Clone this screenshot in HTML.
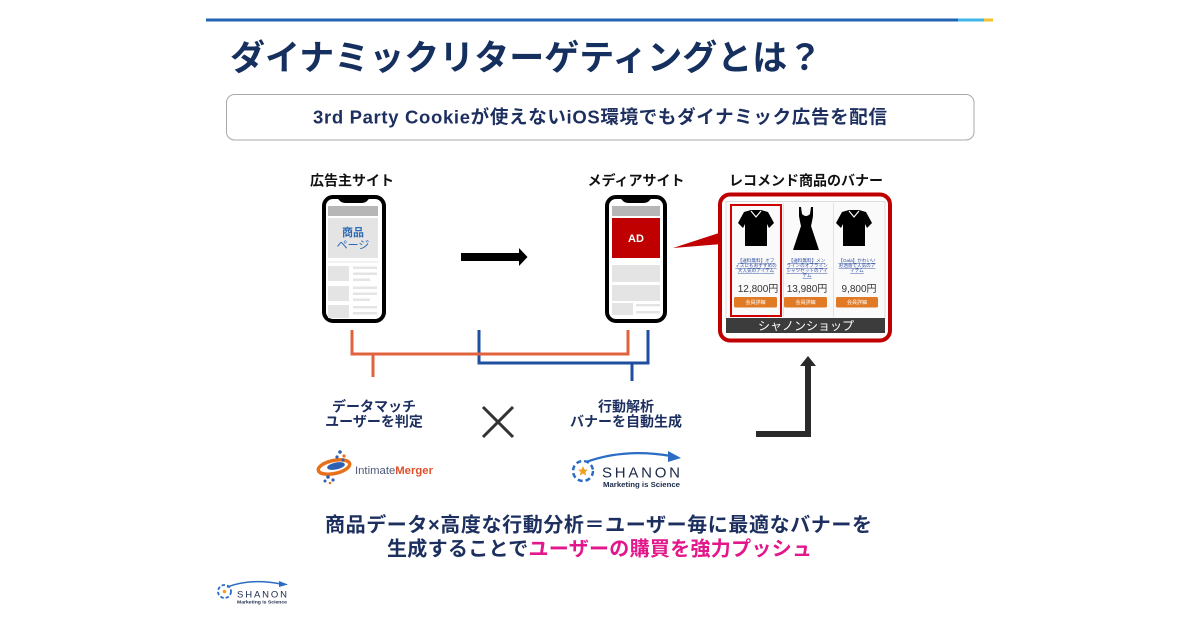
<!DOCTYPE html>
<html><head><meta charset="utf-8"><style>
html,body{margin:0;padding:0;background:#fff;}
body{width:1200px;height:628px;overflow:hidden;position:relative;}
svg{position:absolute;left:0;top:0;}
text{font-family:"Liberation Sans","Noto Sans CJK JP",sans-serif;}
</style></head><body>
<svg width="1200" height="628" viewBox="0 0 1200 628" xmlns="http://www.w3.org/2000/svg">
<!-- top line -->
<rect x="206" y="18.5" width="752" height="3" fill="#2263b3"/>
<rect x="958" y="18.5" width="26" height="3" fill="#3fb8e8"/>
<rect x="984" y="18.5" width="9" height="3" fill="#f2c12e"/>

<!-- title -->
<text x="230" y="70" font-size="35" font-weight="bold" fill="#15305f">ダイナミックリターゲティングとは？</text>

<!-- subtitle box -->
<rect x="226.5" y="94.5" width="747.5" height="45.5" rx="8" fill="#fff" stroke="#a8a8a8" stroke-width="1"/>
<text x="313" y="123.5" font-size="18.5" font-weight="bold" fill="#1c2f5f" textLength="574" lengthAdjust="spacing">3rd Party Cookieが使えないiOS環境でもダイナミック広告を配信</text>

<!-- labels -->
<text x="352" y="185.5" font-size="14" font-weight="bold" fill="#111" text-anchor="middle">広告主サイト</text>
<text x="636" y="185.5" font-size="14" font-weight="bold" fill="#111" text-anchor="middle">メディアサイト</text>
<text x="806" y="185.5" font-size="14" font-weight="bold" fill="#111" text-anchor="middle">レコメンド商品のバナー</text>

<!-- phone 1 -->
<rect x="324" y="197" width="60" height="124" rx="9" fill="#fff" stroke="#000" stroke-width="4"/>
<path d="M337,197 Q340,203 345,203 H362 Q367,203 370,197 Z" fill="#000"/>
<rect x="328" y="206" width="50" height="10" fill="#b6b6b6"/>
<rect x="328" y="218" width="50" height="40" fill="#e4e4e4"/>
<text x="353" y="236" font-size="11" font-weight="bold" fill="#2d6bb5" text-anchor="middle">商品</text>
<text x="353" y="248.5" font-size="11" fill="#2d6bb5" text-anchor="middle">ページ</text>
<rect x="328" y="261.5" width="50" height="1" fill="#e4e4e4"/>
<rect x="328" y="266" width="21" height="15" fill="#e4e4e4"/>
<rect x="353" y="266.5" width="24" height="2.5" fill="#e4e4e4"/>
<rect x="353" y="272.5" width="24" height="2.5" fill="#e4e4e4"/>
<rect x="353" y="278.5" width="17" height="2.5" fill="#e4e4e4"/>
<rect x="328" y="286" width="21" height="15" fill="#e4e4e4"/>
<rect x="353" y="286.5" width="24" height="2.5" fill="#e4e4e4"/>
<rect x="353" y="292.5" width="24" height="2.5" fill="#e4e4e4"/>
<rect x="353" y="298.5" width="17" height="2.5" fill="#e4e4e4"/>
<rect x="328" y="305" width="21" height="13" fill="#e4e4e4"/>
<rect x="353" y="306" width="24" height="2.5" fill="#e4e4e4"/>
<rect x="353" y="312" width="24" height="2.5" fill="#e4e4e4"/>

<!-- arrow right -->
<rect x="461" y="253" width="60" height="8" fill="#000"/>
<polygon points="519,248 527.5,257 519,266" fill="#000"/>

<!-- phone 2 -->
<rect x="607" y="197" width="58" height="124" rx="9" fill="#fff" stroke="#000" stroke-width="4"/>
<path d="M620,197 Q623,203 628,203 H644 Q649,203 652,197 Z" fill="#000"/>
<rect x="612" y="206" width="48" height="10" fill="#b6b6b6"/>
<rect x="612" y="218" width="48" height="40" fill="#c00000"/>
<text x="636" y="242" font-size="11" font-weight="bold" fill="#fff" text-anchor="middle">AD</text>
<rect x="612" y="265" width="48" height="17" fill="#e4e4e4"/>
<rect x="612" y="285" width="48" height="16" fill="#e4e4e4"/>
<rect x="612" y="303" width="21" height="12" fill="#e4e4e4"/>
<rect x="636" y="304" width="24" height="2.5" fill="#e4e4e4"/>
<rect x="636" y="311" width="24" height="2.5" fill="#e4e4e4"/>

<!-- callout wedge -->
<polygon points="673,248 722,232 722,244" fill="#c00000"/>

<!-- banner -->
<rect x="720" y="194.5" width="170" height="146" rx="10" fill="#fff" stroke="#c00000" stroke-width="4"/>
<rect x="726" y="201.5" width="159" height="117" fill="#fafafa" stroke="#dcdcdc" stroke-width="1"/>
<rect x="783" y="203" width="1" height="114" fill="#e2e2e2"/>
<rect x="833" y="203" width="1" height="114" fill="#e2e2e2"/>
<rect x="726" y="318" width="159" height="15" fill="#3c3c3c"/>
<text x="806" y="330" font-size="12" fill="#fff" text-anchor="middle">シャノンショップ</text>
<rect x="731" y="205" width="50" height="111" fill="none" stroke="#d00000" stroke-width="2"/>

<!-- shirt 1 -->
<path d="M751,210 L744,212 L738,223 L743,228 L745,224 L745,246 L767,246 L767,224 L769,228 L774,223 L768,212 L761,210 Z" fill="#000"/>
<path d="M751,211 L756,217 L761,211" stroke="#fff" stroke-width="1.2" fill="none"/>
<!-- dress -->
<path d="M799,207 L801,207 L802,214 Q806,218 810,214 L811,207 L813,207 L813,216 Q812,222 811,226 L819,250 L793,250 L801,226 Q800,222 799,216 Z" fill="#000"/>
<!-- shirt 3 -->
<path d="M849,210 L842,212 L836,223 L841,228 L843,224 L843,246 L865,246 L865,224 L867,228 L872,223 L866,212 L859,210 Z" fill="#000"/>
<path d="M849,211 L854,217 L859,211" stroke="#fff" stroke-width="1.2" fill="none"/>

<!-- link texts -->
<g font-size="4.6" fill="#2b4a9e" text-decoration="underline" text-anchor="middle">
<text x="756" y="262">【送料無料】オフ</text>
<text x="756" y="267">ィスにもおすすめの</text>
<text x="756" y="272">大人気のアイテム</text>
<text x="807" y="262">【送料無料】メン</text>
<text x="807" y="267">ラインのオフライン</text>
<text x="807" y="272">シャツセットのアイ</text>
<text x="807" y="277">テム</text>
<text x="857" y="262">【Gala】かわいい</text>
<text x="857" y="267">お洒落で人気のア</text>
<text x="857" y="272">イテム</text>
</g>
<g font-size="10" fill="#333" text-anchor="middle">
<text x="758" y="292">12,800円</text>
<text x="807" y="292">13,980円</text>
<text x="859" y="292">9,800円</text>
</g>
<rect x="734" y="297" width="43" height="10.5" rx="1.5" fill="#e07a25"/>
<rect x="784" y="297" width="43" height="10.5" rx="1.5" fill="#e07a25"/>
<rect x="836" y="297" width="42" height="10.5" rx="1.5" fill="#e07a25"/>
<g font-size="5" fill="#fff" text-anchor="middle">
<text x="755.5" y="304">会員詳細</text>
<text x="805.5" y="304">会員詳細</text>
<text x="857" y="304">会員詳細</text>
</g>

<!-- brackets -->
<path d="M479,330 V363 H648 V330 M632,363 V381" fill="none" stroke="#1f4f9f" stroke-width="3"/>
<path d="M352,330 V354 H628 V330 M373,354 V377" fill="none" stroke="#e0633e" stroke-width="3"/>

<!-- labels -->
<g font-size="14" font-weight="bold" fill="#1c2f5f" text-anchor="middle">
<text x="374" y="411.5">データマッチ</text>
<text x="374" y="426.5">ユーザーを判定</text>
<text x="626" y="411.5">行動解析</text>
<text x="626" y="426.5">バナーを自動生成</text>
</g>

<!-- X mark -->
<path d="M483,407 L513,437 M513,407 L483,437" stroke="#333" stroke-width="3"/>

<!-- L arrow -->
<rect x="805" y="364" width="6" height="73" fill="#2a2a2a"/>
<rect x="756" y="431" width="55" height="6" fill="#2a2a2a"/>
<polygon points="808,356 816,366 800,366" fill="#2a2a2a"/>

<!-- IntimateMerger logo -->
<g>
<ellipse cx="334" cy="467" rx="16" ry="6.5" transform="rotate(-12 334 467)" fill="none" stroke="#e8701a" stroke-width="3.5"/>
<ellipse cx="336" cy="466" rx="9" ry="3.5" transform="rotate(-12 336 466)" fill="#2f5fb0"/>
<circle cx="340" cy="452" r="1.8" fill="#2f5fb0"/>
<circle cx="344" cy="456" r="1.6" fill="#e8701a"/>
<circle cx="337" cy="457" r="1.6" fill="#2f5fb0"/>
<circle cx="343" cy="460" r="1.5" fill="#2f5fb0"/>
<circle cx="328" cy="477" r="1.8" fill="#2f5fb0"/>
<circle cx="333" cy="480" r="1.6" fill="#2f5fb0"/>
<circle cx="325" cy="481" r="1.5" fill="#2f5fb0"/>
<circle cx="330" cy="483" r="1.3" fill="#e8701a"/>
<text x="355" y="474" font-size="11" textLength="78" lengthAdjust="spacingAndGlyphs"><tspan fill="#4e5a7a">Intimate</tspan><tspan fill="#e0502a" font-weight="bold">Merger</tspan></text>
</g>

<!-- SHANON logo mid -->
<g>
<circle cx="583" cy="471" r="10" fill="none" stroke="#2b6cc4" stroke-width="2.5" stroke-dasharray="5 3"/>
<polygon points="583,466 584.5,469.5 588,469.8 585.3,472 586.2,475.5 583,473.6 579.8,475.5 580.7,472 578,469.8 581.5,469.5" fill="#f0a020"/>
<path d="M586,462 Q625,448 671,456" fill="none" stroke="#2b6cc4" stroke-width="2.2"/>
<polygon points="668,451 681,458 668,462" fill="#2b6cc4"/>
<text x="602" y="477.5" font-size="15" fill="#1b2a4a" textLength="78" lengthAdjust="spacing">SHANON</text>
<text x="603" y="487" font-size="7" font-weight="bold" fill="#1b2a4a" textLength="77" lengthAdjust="spacingAndGlyphs">Marketing is Science</text>
</g>

<!-- SHANON logo bottom-left -->
<g>
<circle cx="224.5" cy="591.5" r="6.5" fill="none" stroke="#2b6cc4" stroke-width="1.8" stroke-dasharray="3.5 2"/>
<circle cx="224.5" cy="591.5" r="1.8" fill="#f0a020"/>
<path d="M227,587 Q252,578 281,584" fill="none" stroke="#2b6cc4" stroke-width="1.5"/>
<polygon points="279,581 288,584.5 279,587" fill="#2b6cc4"/>
<text x="237" y="597.5" font-size="9.5" fill="#1b2a4a" textLength="50" lengthAdjust="spacing">SHANON</text>
<text x="237" y="603.5" font-size="4.5" font-weight="bold" fill="#1b2a4a" textLength="50" lengthAdjust="spacingAndGlyphs">Marketing is Science</text>
</g>

<!-- bottom text -->
<g font-size="20" font-weight="bold">
<text x="325" y="531.5" fill="#1c2f5f" textLength="547" lengthAdjust="spacing">商品データ×高度な行動分析＝ユーザー毎に最適なバナーを</text>
<text x="387" y="555.5" fill="#1c2f5f" textLength="425" lengthAdjust="spacing">生成することで<tspan fill="#e3178b">ユーザーの購買を強力プッシュ</tspan></text>
</g>
</svg>
</body></html>
